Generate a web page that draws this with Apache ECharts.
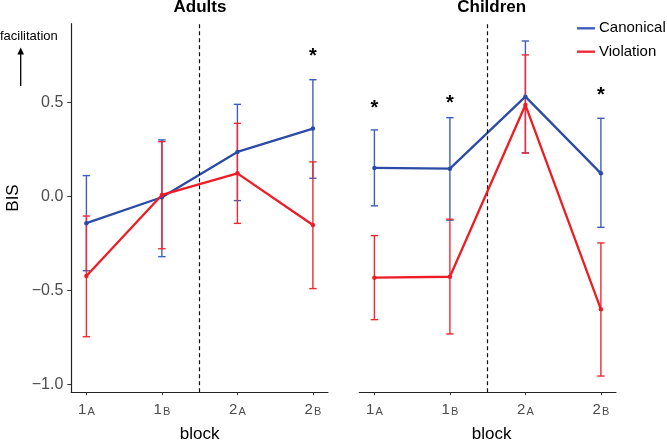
<!DOCTYPE html>
<html lang="en">
<head>
    <meta charset="UTF-8">
    <title>BIS by block</title>
    <script src="https://cdn.jsdelivr.net/npm/echarts@6.0.0/dist/echarts.min.js"></script>
    <style>
        html, body { margin: 0; padding: 0; background: #fff; }
        #chart { width: 667px; height: 443px; }
    </style>
</head>
<body>
<div id="chart"></div>
<script type="text/javascript">
    // block labels: number + small capital letter
    var blockNum = ['1', '1', '2', '2'];
    var blockSub = ['A', 'B', 'A', 'B'];
    var yTicks = [-1.0, -0.5, 0.0, 0.5];

    // Adults
    var adultsCanonical = [-0.141, -0.003, 0.238, 0.362];
    var adultsCanonicalLow = [-0.394, -0.319, -0.021, 0.098];
    var adultsCanonicalHigh = [0.112, 0.302, 0.491, 0.622];
    var adultsViolation = [-0.422, 0.009, 0.124, -0.151];
    var adultsViolationLow = [-0.745, -0.277, -0.142, -0.489];
    var adultsViolationHigh = [-0.103, 0.293, 0.390, 0.185];
    var adultsStarBlock = [3];
    var adultsStarY = [0.771];

    // Children
    var childrenCanonical = [0.153, 0.149, 0.532, 0.124];
    var childrenCanonicalLow = [-0.049, -0.125, 0.233, -0.163];
    var childrenCanonicalHigh = [0.355, 0.420, 0.828, 0.417];
    var childrenViolation = [-0.431, -0.426, 0.488, -0.599];
    var childrenViolationLow = [-0.654, -0.730, 0.232, -0.954];
    var childrenViolationHigh = [-0.207, -0.120, 0.754, -0.246];
    var childrenStarBlock = [0, 1, 3];
    var childrenStarY = [0.497, 0.523, 0.564];

    var FONT = '"Liberation Sans", Arial, sans-serif';
    var BLUE = '#2c4ba7';
    var BLUE_BAR = '#3f5fc0';
    var RED = '#ee1c25';
    var RED_BAR = '#f02a33';

    function points(vals) {
        return vals.map(function (v, i) { return [i, v]; });
    }
    function bars(low, high) {
        return low.map(function (v, i) { return [i, v, high[i]]; });
    }
    function stars(blocks, ys) {
        return blocks.map(function (b, i) { return [b, ys[i]]; });
    }

    function renderErrorBar(params, api) {
        var x = api.value(0);
        var top = api.coord([x, api.value(2)]);
        var bot = api.coord([x, api.value(1)]);
        var half = 3.7;
        var st = { stroke: api.visual('color'), fill: null, lineWidth: 1.4 };
        return {
            type: 'group',
            children: [
                { type: 'line', shape: { x1: top[0], y1: top[1], x2: bot[0], y2: bot[1] }, style: st },
                { type: 'line', shape: { x1: top[0] - half, y1: top[1], x2: top[0] + half, y2: top[1] }, style: st },
                { type: 'line', shape: { x1: bot[0] - half, y1: bot[1], x2: bot[0] + half, y2: bot[1] }, style: st }
            ]
        };
    }

    function renderStar(params, api) {
        var p = api.coord([api.value(0), api.value(1)]);
        return {
            type: 'text',
            x: p[0],
            y: p[1] + 5,
            style: {
                text: '*',
                fill: '#000',
                font: 'bold 20px ' + FONT,
                align: 'center',
                verticalAlign: 'middle'
            }
        };
    }

    function xAxisFor(idx, namePad) {
        return {
            type: 'value',
            gridIndex: idx,
            min: -0.2,
            max: 3.2,
            name: 'block',
            nameLocation: 'middle',
            nameGap: 34,
            nameTextStyle: { fontSize: 17, color: '#000', fontFamily: FONT, padding: namePad },
            axisLine: { show: true, onZero: false, lineStyle: { color: '#222', width: 1.2 } },
            axisTick: { show: true, length: 3, lineStyle: { color: '#333' }, customValues: [0, 1, 2, 3] },
            axisLabel: {
                margin: 10,
                customValues: [0, 1, 2, 3],
                formatter: function (v) {
                    var i = Math.round(v);
                    return '{n|' + blockNum[i] + '}{s|' + blockSub[i] + '}';
                },
                rich: {
                    n: { fontSize: 15, lineHeight: 15, color: '#4d4d4d', fontFamily: FONT, verticalAlign: 'bottom' },
                    s: { fontSize: 11, lineHeight: 11, color: '#4d4d4d', fontFamily: FONT, verticalAlign: 'bottom', padding: [0, 0, 0, 1] }
                }
            },
            splitLine: { show: false }
        };
    }

    function yAxisFor(idx, showAxis) {
        return {
            type: 'value',
            gridIndex: idx,
            min: -1.04,
            max: 0.92,
            axisLine: { show: showAxis, onZero: false, lineStyle: { color: '#222', width: 1.2 } },
            axisTick: { show: showAxis, length: 4, lineStyle: { color: '#333' }, customValues: yTicks },
            axisLabel: {
                show: showAxis,
                margin: 8,
                fontSize: 16,
                color: '#4d4d4d',
                fontFamily: FONT,
                customValues: yTicks,
                formatter: function (v) {
                    return v.toFixed(1).replace('-', '\u2212');
                }
            },
            splitLine: { show: false }
        };
    }

    function panelSeries(idx, canon, canonLo, canonHi, viol, violLo, violHi, starB, starY) {
        return [
            {
                name: 'Canonical', type: 'custom', xAxisIndex: idx, yAxisIndex: idx,
                renderItem: renderErrorBar, data: bars(canonLo, canonHi),
                itemStyle: { color: BLUE_BAR }, z: 2, silent: true
            },
            {
                name: 'Violation', type: 'custom', xAxisIndex: idx, yAxisIndex: idx,
                renderItem: renderErrorBar, data: bars(violLo, violHi),
                itemStyle: { color: RED_BAR }, z: 3, silent: true
            },
            {
                name: 'Canonical', type: 'line', xAxisIndex: idx, yAxisIndex: idx,
                data: points(canon), symbol: 'circle', symbolSize: 4.5,
                lineStyle: { color: BLUE, width: 2.3 }, itemStyle: { color: BLUE },
                z: 4, silent: true,
                markLine: {
                    silent: true, symbol: 'none', label: { show: false },
                    lineStyle: { type: [4, 3], color: '#111', width: 1.2 },
                    data: [{ xAxis: 1.5 }]
                }
            },
            {
                name: 'Violation', type: 'line', xAxisIndex: idx, yAxisIndex: idx,
                data: points(viol), symbol: 'circle', symbolSize: 4.5,
                lineStyle: { color: RED, width: 2.3 }, itemStyle: { color: RED },
                z: 5, silent: true
            },
            {
                type: 'custom', xAxisIndex: idx, yAxisIndex: idx,
                renderItem: renderStar, data: stars(starB, starY), z: 6, silent: true
            }
        ];
    }

    var myChart = echarts.init(document.getElementById('chart'), null, { renderer: 'canvas' });

    var option = {
        animation: false,
        backgroundColor: '#fff',
        grid: [
            { left: 71.3, top: 23.7, width: 256.7, height: 368.5, outerBoundsMode: 'none' },
            { left: 359.3, top: 23.7, width: 256.7, height: 368.5, outerBoundsMode: 'none' }
        ],
        xAxis: [xAxisFor(0, [0, 0, 0, 0]), xAxisFor(1, [0, 0, 0, 8])],
        yAxis: [yAxisFor(0, true), yAxisFor(1, false)],
        legend: {
            data: ['Canonical', 'Violation'],
            orient: 'vertical',
            left: 577,
            top: 20.8,
            icon: 'rect',
            itemWidth: 18,
            itemHeight: 2.4,
            itemGap: 8.4,
            padding: 0,
            selectedMode: false,
            textStyle: { fontSize: 15, color: '#000', fontFamily: FONT, padding: [0, 0, 0, -1] }
        },
        graphic: [
            { type: 'text', x: 200, y: 7.5, style: { text: 'Adults', font: 'bold 17px ' + FONT, fill: '#000', align: 'center', verticalAlign: 'middle' } },
            { type: 'text', x: 491.7, y: 7.5, style: { text: 'Children', font: 'bold 17px ' + FONT, fill: '#000', align: 'center', verticalAlign: 'middle' } },
            { type: 'text', x: 13, y: 198, rotation: Math.PI / 2, style: { text: 'BIS', font: '17px ' + FONT, fill: '#000', align: 'center', verticalAlign: 'middle' } },
            { type: 'text', x: 0, y: 36.5, style: { text: 'facilitation', font: '13px ' + FONT, fill: '#000', align: 'left', verticalAlign: 'middle' } },
            { type: 'line', shape: { x1: 20.7, y1: 86, x2: 20.7, y2: 52 }, style: { stroke: '#000', lineWidth: 1.3 } },
            { type: 'polygon', shape: { points: [[20.7, 47.5], [17.4, 54.5], [24, 54.5]] }, style: { fill: '#000' } }
        ],
        series: []
            .concat(panelSeries(0, adultsCanonical, adultsCanonicalLow, adultsCanonicalHigh,
                adultsViolation, adultsViolationLow, adultsViolationHigh, adultsStarBlock, adultsStarY))
            .concat(panelSeries(1, childrenCanonical, childrenCanonicalLow, childrenCanonicalHigh,
                childrenViolation, childrenViolationLow, childrenViolationHigh, childrenStarBlock, childrenStarY))
    };

    myChart.setOption(option);
</script>
</body>
</html>
